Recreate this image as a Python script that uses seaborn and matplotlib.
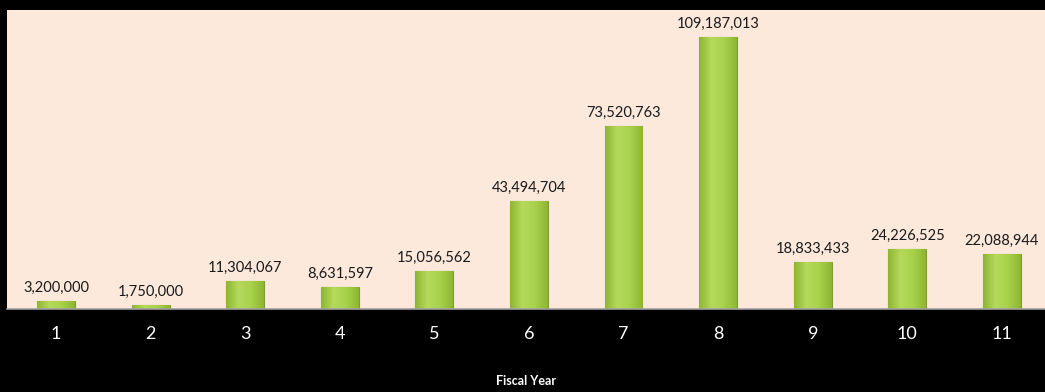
import matplotlib
matplotlib.use("Agg")
import matplotlib.pyplot as plt
import seaborn as sns
import numpy as np
import pandas as pd
from matplotlib.colors import LinearSegmentedColormap

years = ["1", "2", "3", "4", "5", "6", "7", "8", "9", "10", "11"]
amounts = [3200000, 1750000, 11304067, 8631597, 15056562, 43494704,
           73520763, 109187013, 18833433, 24226525, 22088944]

df = pd.DataFrame({"Fiscal Year": years, "Amount": amounts})

sns.set_theme(style="white")
plt.rcParams['font.family'] = ['Lato', 'DejaVu Sans']

fig = plt.figure(figsize=(10.45, 3.92), dpi=100, facecolor="black")
ax = fig.add_axes([7/1045, 1 - 309/392, 1 - 7/1045, 299/392])
ax.set_facecolor("#FCE9DC")

sns.barplot(data=df, x="Fiscal Year", y="Amount", color="#9CC83F",
            width=0.4, saturation=1, edgecolor="#7E9F2F", linewidth=0.8, ax=ax)

# gradient overlay on each bar
grad = np.linspace(0, 1, 256).reshape(1, -1)
cmap = LinearSegmentedColormap.from_list("g", ["#8DB532", "#B5DA5C", "#A8D14B", "#8DB532"])
for p in ax.patches:
    x0, y0, w, h = p.get_x(), p.get_y(), p.get_width(), p.get_height()
    im = ax.imshow(grad, extent=[x0, x0 + w, y0, y0 + h], aspect="auto",
                   cmap=cmap, zorder=p.get_zorder() + 0.1)
    im.set_clip_path(p)

for i, v in enumerate(amounts):
    ax.text(i, v + 2.5e6, f"{v:,}", ha="center", va="bottom",
            fontsize=10.5, color="#1a1a1a")

ax.set_xlim(-0.518, 10.455)
ax.set_ylim(0, 120e6)
ax.set_yticks([])
ax.set_ylabel("")
ax.set_xlabel("Fiscal Year", color="white", fontsize=9, fontweight="bold", labelpad=24)
ax.tick_params(axis="x", colors="white", labelsize=13, length=0, pad=12)
for s in ["top", "right", "left"]:
    ax.spines[s].set_visible(False)
ax.spines["bottom"].set_color("#A0A0A0")
ax.spines["bottom"].set_linewidth(1.2)

fig.savefig("out.png", dpi=100, facecolor="black")
